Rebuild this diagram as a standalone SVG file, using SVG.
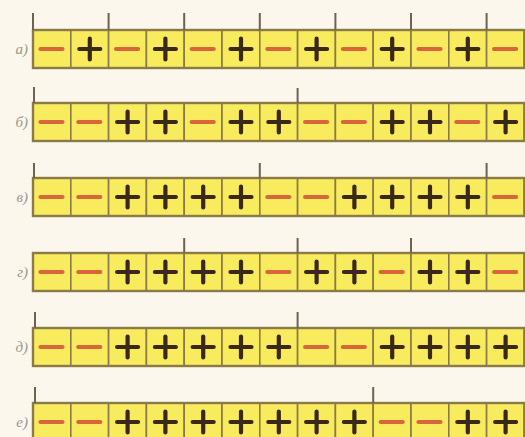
<svg xmlns="http://www.w3.org/2000/svg" xmlns:xlink="http://www.w3.org/1999/xlink" width="525" height="437" viewBox="0 0 525 437">
<style>
.cell{fill:#f8ec5e;stroke:#8a7a48;stroke-width:1.6}
.plus{stroke:#3a2818;stroke-width:4.2;stroke-linecap:round;fill:none}
.minus{stroke:#d9663a;stroke-width:4.2;stroke-linecap:round;fill:none}
.tick{stroke:#6e6250;stroke-width:2}
.frame{fill:none;stroke:#8a7a48;stroke-width:2.4}
.lbl{font-family:"Liberation Serif","DejaVu Serif",serif;font-style:italic;font-size:15px;fill:#9c968c;text-anchor:end}
</style>
<defs>
<g id="p"><rect class="cell" width="37.8" height="38"/><path class="plus" d="M8.5 19h21M19 8.5v21"/></g>
<g id="m"><rect class="cell" width="37.8" height="38"/><path class="minus" d="M7.5 19h22"/></g>
</defs>
<rect width="525" height="437" fill="#fbf7ec"/>

<g id="row-a" transform="translate(33,30)">
<use xlink:href="#m" x="0"/><use xlink:href="#p" x="37.8"/><use xlink:href="#m" x="75.6"/><use xlink:href="#p" x="113.4"/><use xlink:href="#m" x="151.2"/><use xlink:href="#p" x="189"/><use xlink:href="#m" x="226.8"/><use xlink:href="#p" x="264.6"/><use xlink:href="#m" x="302.4"/><use xlink:href="#p" x="340.2"/><use xlink:href="#m" x="378"/><use xlink:href="#p" x="415.8"/><use xlink:href="#m" x="453.6"/>
<rect class="frame" width="491.4" height="38"/>
<path class="tick" d="M0 -17v17M75.6 -17v17M151.2 -17v17M226.8 -17v17M302.4 -17v17M378 -17v17M453.6 -17v17"/>
<text class="lbl" x="-5" y="24">а)</text>
</g>

<g id="row-b" transform="translate(33,103)">
<use xlink:href="#m" x="0"/><use xlink:href="#m" x="37.8"/><use xlink:href="#p" x="75.6"/><use xlink:href="#p" x="113.4"/><use xlink:href="#m" x="151.2"/><use xlink:href="#p" x="189"/><use xlink:href="#p" x="226.8"/><use xlink:href="#m" x="264.6"/><use xlink:href="#m" x="302.4"/><use xlink:href="#p" x="340.2"/><use xlink:href="#p" x="378"/><use xlink:href="#m" x="415.8"/><use xlink:href="#p" x="453.6"/>
<rect class="frame" width="491.4" height="38"/>
<path class="tick" d="M1 -16v16M264.6 -15v15"/>
<text class="lbl" x="-5" y="24">б)</text>
</g>

<g id="row-v" transform="translate(33,178)">
<use xlink:href="#m" x="0"/><use xlink:href="#m" x="37.8"/><use xlink:href="#p" x="75.6"/><use xlink:href="#p" x="113.4"/><use xlink:href="#p" x="151.2"/><use xlink:href="#p" x="189"/><use xlink:href="#m" x="226.8"/><use xlink:href="#m" x="264.6"/><use xlink:href="#p" x="302.4"/><use xlink:href="#p" x="340.2"/><use xlink:href="#p" x="378"/><use xlink:href="#p" x="415.8"/><use xlink:href="#m" x="453.6"/>
<rect class="frame" width="491.4" height="38"/>
<path class="tick" d="M1 -15v15M226.8 -15v15M453.6 -15v15"/>
<text class="lbl" x="-5" y="24">в)</text>
</g>

<g id="row-g" transform="translate(33,253)">
<use xlink:href="#m" x="0"/><use xlink:href="#m" x="37.8"/><use xlink:href="#p" x="75.6"/><use xlink:href="#p" x="113.4"/><use xlink:href="#p" x="151.2"/><use xlink:href="#p" x="189"/><use xlink:href="#m" x="226.8"/><use xlink:href="#p" x="264.6"/><use xlink:href="#p" x="302.4"/><use xlink:href="#m" x="340.2"/><use xlink:href="#p" x="378"/><use xlink:href="#p" x="415.8"/><use xlink:href="#m" x="453.6"/>
<rect class="frame" width="491.4" height="38"/>
<path class="tick" d="M151.2 -15v15M264.6 -15v15M378 -15v15"/>
<text class="lbl" x="-5" y="24">г)</text>
</g>

<g id="row-d" transform="translate(33,328)">
<use xlink:href="#m" x="0"/><use xlink:href="#m" x="37.8"/><use xlink:href="#p" x="75.6"/><use xlink:href="#p" x="113.4"/><use xlink:href="#p" x="151.2"/><use xlink:href="#p" x="189"/><use xlink:href="#p" x="226.8"/><use xlink:href="#m" x="264.6"/><use xlink:href="#m" x="302.4"/><use xlink:href="#p" x="340.2"/><use xlink:href="#p" x="378"/><use xlink:href="#p" x="415.8"/><use xlink:href="#p" x="453.6"/>
<rect class="frame" width="491.4" height="38"/>
<path class="tick" d="M2 -16v16M264.6 -16v16"/>
<text class="lbl" x="-5" y="24">д)</text>
</g>

<g id="row-e" transform="translate(33,403)">
<use xlink:href="#m" x="0"/><use xlink:href="#m" x="37.8"/><use xlink:href="#p" x="75.6"/><use xlink:href="#p" x="113.4"/><use xlink:href="#p" x="151.2"/><use xlink:href="#p" x="189"/><use xlink:href="#p" x="226.8"/><use xlink:href="#p" x="264.6"/><use xlink:href="#p" x="302.4"/><use xlink:href="#m" x="340.2"/><use xlink:href="#m" x="378"/><use xlink:href="#p" x="415.8"/><use xlink:href="#p" x="453.6"/>
<rect class="frame" width="491.4" height="38"/>
<path class="tick" d="M2 -16v16M340.2 -16v16"/>
<text class="lbl" x="-5" y="24">е)</text>
</g>
</svg>
